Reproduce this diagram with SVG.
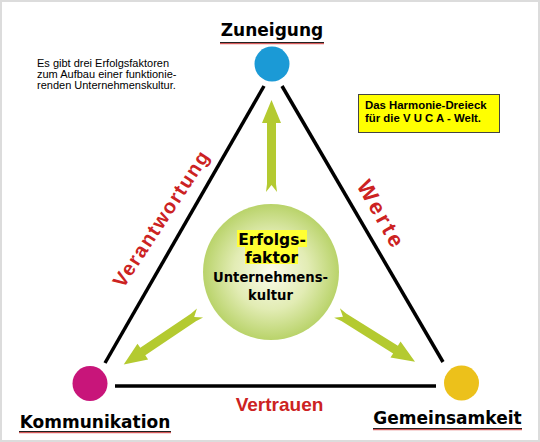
<svg xmlns="http://www.w3.org/2000/svg" width="540" height="442" viewBox="0 0 540 442">
<defs>
<radialGradient id="g" cx="50%" cy="50%" r="50%">
<stop offset="0" stop-color="#fbfbeb"/>
<stop offset="0.55" stop-color="#e2ecb4"/>
<stop offset="1" stop-color="#b9d36a"/>
</radialGradient>
<path id="arr" d="M0,-5.5 L8,-4.5 L69,-4.5 L69,-9.5 L92,0 L69,9.5 L69,4.5 L8,4.5 L0,5.5 L7,0 Z"/>
</defs>
<style>
.edge{stroke:#000;stroke-width:3.5;fill:none}
.title{font-family:"DejaVu Sans",Verdana,sans-serif;font-weight:bold;font-size:17px;fill:#000}
.ul1{stroke:#222;stroke-width:1.2}
.ul2{stroke:#c33;stroke-width:1}
.red{font-family:"Liberation Sans",Arial,sans-serif;font-weight:bold;fill:#cc2222}
.arrow{fill:#b4ca30}
.ctr{font-family:"DejaVu Sans",Verdana,sans-serif;font-weight:bold;fill:#000;text-anchor:middle}
</style>
<rect x="0" y="0" width="540" height="442" fill="#fff" stroke="#dcdcdc" stroke-width="4"/>

<g id="connectors">
<line class="edge" x1="264" y1="86" x2="105" y2="363"/>
<line class="edge" x1="282" y1="86" x2="443" y2="362"/>
<line class="edge" x1="115" y1="386" x2="436" y2="386"/>
<use href="#arr" class="arrow" transform="translate(271.5,192) rotate(-90)"/>
<use href="#arr" class="arrow" transform="translate(200,313) rotate(146)"/>
<use href="#arr" class="arrow" transform="translate(337,313) rotate(32)"/>
<text class="red" font-size="20" letter-spacing="1.5" text-anchor="middle" transform="translate(162,219) rotate(-56.7)" x="0" y="6">Verantwortung</text>
<text class="red" font-size="22" letter-spacing="3" text-anchor="middle" transform="translate(381,215) rotate(60.5)" x="0" y="7">Werte</text>
<text class="red" font-size="19" text-anchor="middle" x="279.5" y="410.5">Vertrauen</text>
</g>

<g id="zuneigung">
<circle cx="272" cy="64" r="17.5" fill="#1b9ad6"/>
<text class="title" x="272" y="36" text-anchor="middle">Zuneigung</text>
<line class="ul1" x1="220" y1="42.5" x2="324" y2="42.5"/>
<line class="ul2" x1="220" y1="43.7" x2="324" y2="43.7"/>
</g>

<g id="kommunikation">
<circle cx="90" cy="383.5" r="17.5" fill="#c8157a"/>
<text class="title" x="95" y="428" text-anchor="middle">Kommunikation</text>
<line class="ul1" x1="19" y1="431.5" x2="171" y2="431.5"/>
<line class="ul2" x1="19" y1="432.7" x2="171" y2="432.7"/>
</g>

<g id="gemeinsamkeit">
<circle cx="461.5" cy="383" r="17.5" fill="#ecc11b"/>
<text class="title" x="447.5" y="424" text-anchor="middle">Gemeinsamkeit</text>
<line class="ul1" x1="373" y1="428.5" x2="522" y2="428.5"/>
<line class="ul2" x1="373" y1="429.7" x2="522" y2="429.7"/>
</g>

<g id="center">
<circle cx="271" cy="272" r="68" fill="url(#g)"/>
<rect x="237" y="230" width="70" height="17" fill="#ffff33"/>
<rect x="245" y="247" width="53" height="17" fill="#ffff33"/>
<text class="ctr" x="272" y="244.5" font-size="15.5">Erfolgs-</text>
<text class="ctr" x="271.5" y="262.5" font-size="15.5">faktor</text>
<text class="ctr" x="270.5" y="282" font-size="13.2">Unternehmens-</text>
<text class="ctr" x="270.5" y="300" font-size="13.2">kultur</text>
</g>

<g id="info">
<text font-family="'Liberation Sans',Arial,sans-serif" font-size="11" fill="#000">
<tspan x="37" y="66.5">Es gibt drei Erfolgsfaktoren</tspan>
<tspan x="37" y="77.5">zum Aufbau einer funktionie-</tspan>
<tspan x="37" y="88.5">renden Unternehmenskultur.</tspan>
</text>
</g>

<g id="harmonie">
<rect x="358.5" y="94.5" width="141" height="38" fill="#ffff00" stroke="#444" stroke-width="1"/>
<text font-family="'Liberation Sans',Arial,sans-serif" font-weight="bold" font-size="11.4" fill="#000">
<tspan x="365" y="108.5">Das Harmonie-Dreieck</tspan>
<tspan x="365" y="122">für die V U C A - Welt.</tspan>
</text>
</g>
</svg>
